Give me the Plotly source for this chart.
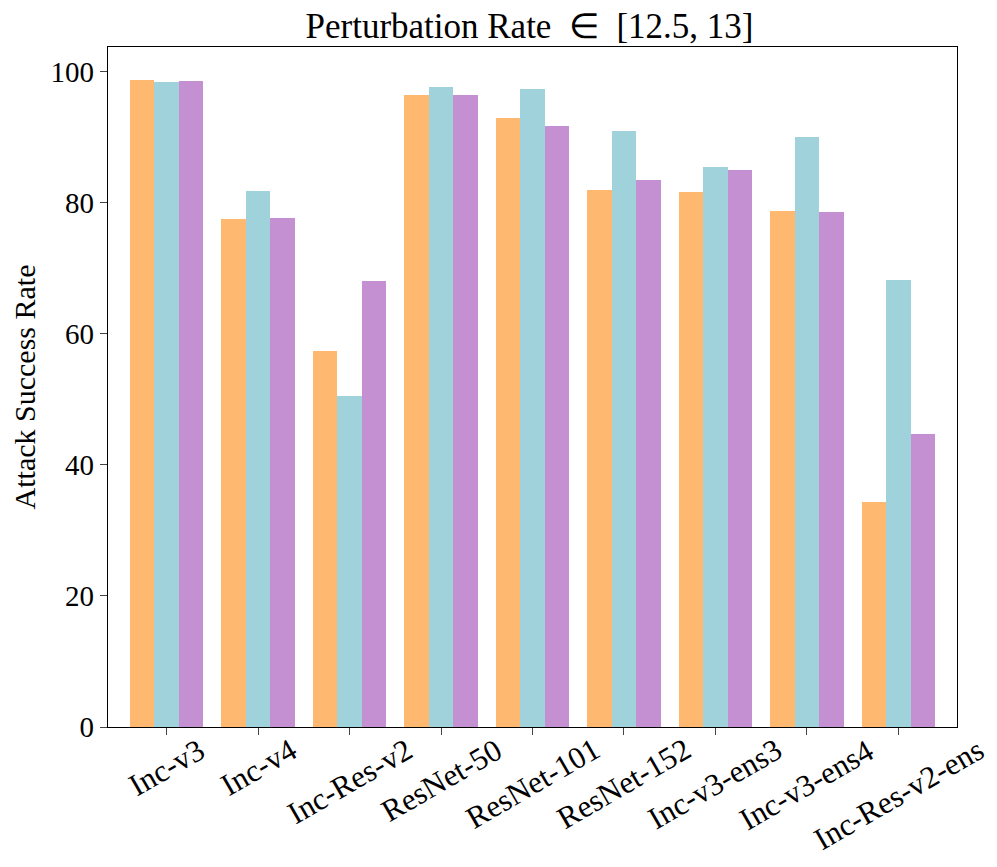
import plotly.graph_objects as go

categories = ["Inc-v3", "Inc-v4", "Inc-Res-v2", "ResNet-50", "ResNet-101",
              "ResNet-152", "Inc-v3-ens3", "Inc-v3-ens4", "Inc-Res-v2-ens"]
series_a = [98.8, 77.5, 57.4, 96.5, 92.9, 81.9, 81.7, 78.8, 34.4]
series_b = [98.5, 81.8, 50.5, 97.7, 97.4, 91.0, 85.5, 90.1, 68.3]
series_c = [98.6, 77.7, 68.1, 96.5, 91.8, 83.5, 85.0, 78.6, 44.8]
colors = ["#FFB870", "#A0D2DB", "#C490D1"]
y_ticks = [0, 20, 40, 60, 80, 100]

FONT = "Liberation Serif"
idx = list(range(len(categories)))
w = 0.8 / 3

fig = go.Figure()
for k, (vals, col) in enumerate(zip([series_a, series_b, series_c], colors)):
    fig.add_trace(go.Bar(
        x=[i + (k - 1) * w for i in idx], y=vals, width=w,
        marker=dict(color=col, line=dict(width=0)),
        showlegend=False,
    ))

for i, name in zip(idx, categories):
    fig.add_annotation(x=i, y=0, xref="x", yref="paper", text=name,
                       textangle=-30, showarrow=False, xanchor="center",
                       yanchor="top", yshift=-2,
                       font=dict(family=FONT, size=31, color="black"))

fig.update_layout(
    width=981, height=851,
    margin=dict(l=95, r=32, t=39, b=132),
    paper_bgcolor="white", plot_bgcolor="white",
    bargap=0, barmode="overlay",
    font=dict(family=FONT, size=29, color="black"),
    title=dict(text="Perturbation Rate  ∈  [12.5, 13]", x=0.5316, xanchor="center",
               y=0.979, yanchor="middle", font=dict(family=FONT, size=35)),
)
fig.update_xaxes(range=[-0.64, 8.64], tickmode="array", tickvals=idx,
                 showticklabels=False, ticks="outside", ticklen=7, tickwidth=1.3,
                 showline=True, linecolor="black", linewidth=1.3, mirror=True,
                 showgrid=False, zeroline=False)
fig.update_yaxes(range=[0, 103.8], tickmode="array", tickvals=y_ticks,
                 ticks="outside", ticklen=7, tickwidth=1.3,
                 showline=True, linecolor="black", linewidth=1.3, mirror=True,
                 showgrid=False, zeroline=False,
                 title=dict(text="Attack Success Rate", standoff=10,
                            font=dict(family=FONT, size=30)),
                 tickfont=dict(family=FONT, size=29))

fig.write_html("out.html")
